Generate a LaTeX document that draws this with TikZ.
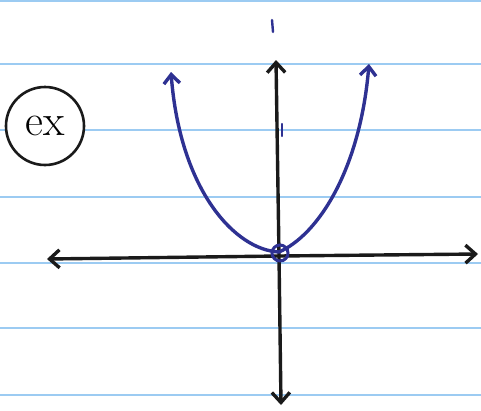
\documentclass[tikz,border=0pt]{standalone}
\usepackage{fontspec}
\usepackage{tikz}
\usetikzlibrary{arrows.meta,positioning}
\definecolor{paperline}{HTML}{9CCBF2}
\definecolor{pen}{HTML}{2E3192}
\definecolor{ink}{HTML}{1A1A1A}

\begin{document}
\begin{tikzpicture}[
  x=1pt,y=-1pt,
  ruled/.style={paperline,line width=2.4pt},
  axis/.style={ink,line width=3.4pt,line cap=round,-{Straight Barb[length=10pt,width=18pt]}},
  curve/.style={pen,line width=3.4pt,line cap=round,-{Straight Barb[length=9pt,width=16pt]}},
  tick/.style={pen,line width=2.4pt,line cap=round},
  badge/.style={draw=ink,line width=2.6pt,circle,fill=white,inner sep=0pt,
    minimum width=78pt,font=\fontsize{44}{44}\selectfont}
]
\useasboundingbox (0,0) rectangle (481,410);
% ruled paper
\foreach \yy in {1,64,130,197,263,328,395}
  \draw[ruled] (0,\yy) -- (481,\yy);

\node[badge] (ex) at (45,126) {ex};

% axes
\coordinate (origin) at (279,256);
\coordinate (west) at (47,259);
\coordinate (east) at (478,254);
\coordinate (north) at (276,60);
\coordinate (south) at (281,405);
\draw[axis] (origin) -- (west);
\draw[axis] (origin) -- (east);
\draw[axis] (origin) -- (north);
\draw[axis] (origin) -- (south);

% marks on the y-axis
\draw[tick] (272,20) -- (273,32);
\draw[tick] (282,124) -- (282,136);

% parabola
\coordinate (vertex) at (279,252);
\coordinate (lefttip) at (171,72);
\coordinate (righttip) at (369,64);
\draw[curve] (vertex) .. controls (235,250) and (180,190) .. (lefttip);
\draw[curve] (vertex) .. controls (318,235) and (360,170) .. (righttip);
\node[draw=pen,line width=3pt,circle,minimum size=16pt,inner sep=0pt] (zero) at (280,253) {};
\end{tikzpicture}
\end{document}
